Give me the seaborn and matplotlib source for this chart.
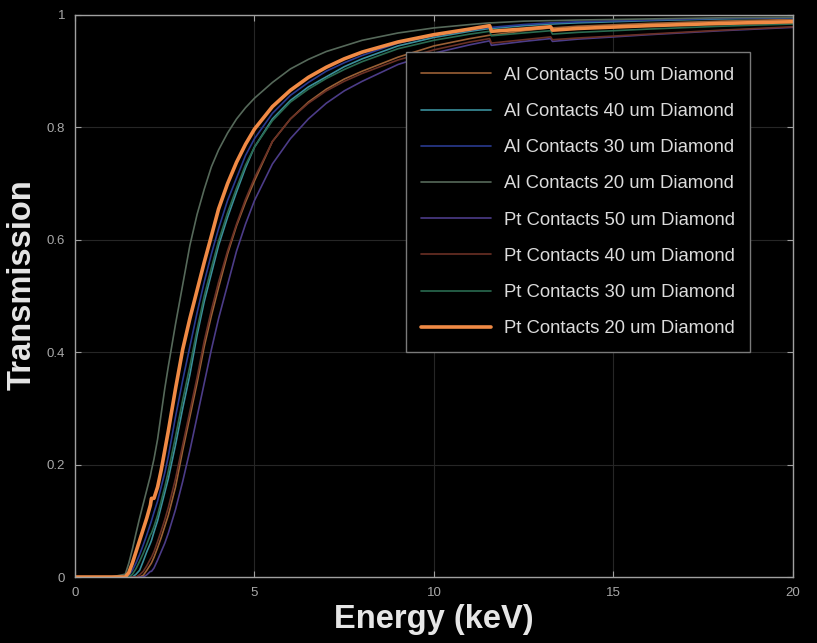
import numpy as np
import pandas as pd
import matplotlib
matplotlib.use('Agg')
import matplotlib.pyplot as plt
import seaborn as sns

# energy grid (keV) shared by all curves
energy = [0, 1.0, 1.4, 1.5, 1.6, 1.7, 1.8, 1.9, 2.0, 2.1, 2.13, 2.2, 2.3, 2.4, 2.5, 2.6,
          2.8, 3.0, 3.2, 3.4, 3.6, 3.8, 4.0, 4.25, 4.5, 4.75, 5.0, 5.5, 6.0, 6.5, 7.0, 7.5,
          8.0, 9.0, 10.0, 11.0, 11.55, 11.6, 12.5, 13.25, 13.3, 14.0, 16.0, 18.0, 20.0]

al50 = [0, 0, 0, 0, 0, 0, 0, 0.003, 0.012, 0.022, 0.025, 0.035, 0.052, 0.07, 0.09, 0.11,
        0.16, 0.225, 0.285, 0.345, 0.41, 0.465, 0.515, 0.575, 0.625, 0.667, 0.705, 0.775, 0.815, 0.845, 0.868, 0.886,
        0.9, 0.925, 0.945, 0.958, 0.964, 0.964, 0.972, 0.977, 0.977, 0.98, 0.985, 0.989, 0.992]
al40 = [0, 0, 0, 0, 0, 0.005, 0.012, 0.028, 0.045, 0.06, 0.065, 0.08, 0.1, 0.125, 0.15, 0.175,
        0.235, 0.3, 0.36, 0.43, 0.49, 0.54, 0.59, 0.64, 0.685, 0.728, 0.765, 0.815, 0.848, 0.872, 0.89, 0.908,
        0.922, 0.945, 0.96, 0.971, 0.976, 0.976, 0.981, 0.984, 0.984, 0.986, 0.99, 0.993, 0.995]
al30 = [0, 0, 0, 0.003, 0.012, 0.025, 0.04, 0.057, 0.075, 0.094, 0.1, 0.115, 0.135, 0.16, 0.185, 0.215,
        0.285, 0.35, 0.41, 0.47, 0.525, 0.575, 0.62, 0.67, 0.71, 0.75, 0.78, 0.825, 0.857, 0.88, 0.9, 0.915,
        0.928, 0.95, 0.963, 0.973, 0.978, 0.978, 0.983, 0.986, 0.986, 0.988, 0.991, 0.994, 0.995]
al20 = [0, 0, 0.005, 0.025, 0.05, 0.078, 0.105, 0.13, 0.155, 0.18, 0.19, 0.21, 0.245, 0.29, 0.335, 0.375,
        0.45, 0.52, 0.59, 0.645, 0.69, 0.73, 0.76, 0.79, 0.815, 0.835, 0.852, 0.88, 0.904, 0.921, 0.935, 0.945,
        0.955, 0.968, 0.977, 0.983, 0.986, 0.986, 0.989, 0.99, 0.99, 0.991, 0.993, 0.995, 0.996]
pt50 = [0, 0, 0, 0, 0, 0, 0, 0, 0.004, 0.01, 0.01, 0.016, 0.03, 0.045, 0.06, 0.078,
        0.12, 0.17, 0.225, 0.285, 0.345, 0.405, 0.46, 0.52, 0.58, 0.628, 0.67, 0.735, 0.78, 0.815, 0.843, 0.865,
        0.882, 0.912, 0.932, 0.947, 0.954, 0.946, 0.953, 0.958, 0.953, 0.957, 0.965, 0.972, 0.978]
pt40 = [0, 0, 0, 0, 0, 0, 0.004, 0.01, 0.02, 0.032, 0.035, 0.045, 0.063, 0.082, 0.102, 0.124,
        0.175, 0.235, 0.295, 0.355, 0.42, 0.475, 0.525, 0.58, 0.628, 0.672, 0.71, 0.775, 0.815, 0.843, 0.865, 0.882,
        0.896, 0.92, 0.938, 0.952, 0.958, 0.95, 0.956, 0.961, 0.956, 0.959, 0.966, 0.973, 0.979]
pt30 = [0, 0, 0, 0, 0.005, 0.015, 0.028, 0.042, 0.058, 0.075, 0.078, 0.09, 0.11, 0.135, 0.16, 0.188,
        0.25, 0.315, 0.375, 0.44, 0.5, 0.55, 0.598, 0.648, 0.692, 0.733, 0.765, 0.812, 0.845, 0.868, 0.887, 0.903,
        0.917, 0.94, 0.955, 0.966, 0.971, 0.963, 0.968, 0.972, 0.966, 0.969, 0.975, 0.98, 0.984]
pt20 = [0, 0, 0, 0.008, 0.025, 0.045, 0.065, 0.085, 0.105, 0.128, 0.14, 0.14, 0.16, 0.19, 0.225, 0.26,
        0.335, 0.405, 0.46, 0.51, 0.56, 0.607, 0.655, 0.7, 0.738, 0.77, 0.797, 0.837, 0.866, 0.889, 0.907, 0.922,
        0.934, 0.952, 0.965, 0.975, 0.981, 0.971, 0.975, 0.979, 0.973, 0.976, 0.981, 0.985, 0.988]

labels = ['Al Contacts 50 um Diamond', 'Al Contacts 40 um Diamond', 'Al Contacts 30 um Diamond',
          'Al Contacts 20 um Diamond', 'Pt Contacts 50 um Diamond', 'Pt Contacts 40 um Diamond',
          'Pt Contacts 30 um Diamond', 'Pt Contacts 20 um Diamond']
series = [al50, al40, al30, al20, pt50, pt40, pt30, pt20]
colors = ['#9a6035', '#3a8f9c', '#2a3a90', '#56695a', '#4c3c88', '#6a3025', '#2a6a50', '#f08a45']
widths = [1.2, 1.2, 1.2, 1.2, 1.2, 1.2, 1.2, 2.6]

xticks = [0, 5, 10, 15, 20]
yticks = [0, 0.2, 0.4, 0.6, 0.8, 1]
ytick_labels = ['0', '0.2', '0.4', '0.6', '0.8', '1']

sns.set_style('dark')
plt.rcParams['font.family'] = ['Liberation Sans', 'DejaVu Sans']

fig = plt.figure(figsize=(8.17, 6.43), dpi=100, facecolor='black')
ax = fig.add_axes([0.0918, 0.1026, 0.8788, 0.8741])
ax.set_facecolor('black')

for lab, vals, c, w in zip(labels, series, colors, widths):
    sns.lineplot(x=energy, y=vals, ax=ax, color=c, lw=w, label=lab)

ax.set_xlim(0, 20)
ax.set_ylim(0, 1)
ax.set_xticks(xticks)
ax.set_yticks(yticks)
ax.set_yticklabels(ytick_labels)
ax.grid(True, color='#262626', lw=0.8)
ax.set_axisbelow(True)
for s in ax.spines.values():
    s.set_visible(True)
    s.set_color('#a0a0a0')
    s.set_linewidth(1.0)
ax.tick_params(direction='in', length=4, colors='#a0a0a0', labelcolor='#a8a8a8', labelsize=9.5,
               top=True, right=True, bottom=True, left=True, pad=7)

ax.set_xlabel('Energy (keV)', fontsize=23.5, fontweight='bold', color='#e6e6e6', labelpad=4)
ax.set_ylabel('Transmission', fontsize=23.5, fontweight='bold', color='#e6e6e6')
ax.yaxis.set_label_coords(-0.052, 0.52)

leg = ax.legend(loc='upper right', bbox_to_anchor=(0.940, 0.934), borderaxespad=0,
                fontsize=13.3, labelspacing=1.04, handlelength=3.8, handletextpad=0.7,
                frameon=True, fancybox=False, borderpad=0.8)
leg.get_frame().set_facecolor('black')
leg.get_frame().set_edgecolor('#7a7a7a')
leg.get_frame().set_linewidth(1.0)
leg.get_frame().set_alpha(1)
for t in leg.get_texts():
    t.set_color('#dcdcdc')

fig.savefig('out.png', dpi=100, facecolor='black')
